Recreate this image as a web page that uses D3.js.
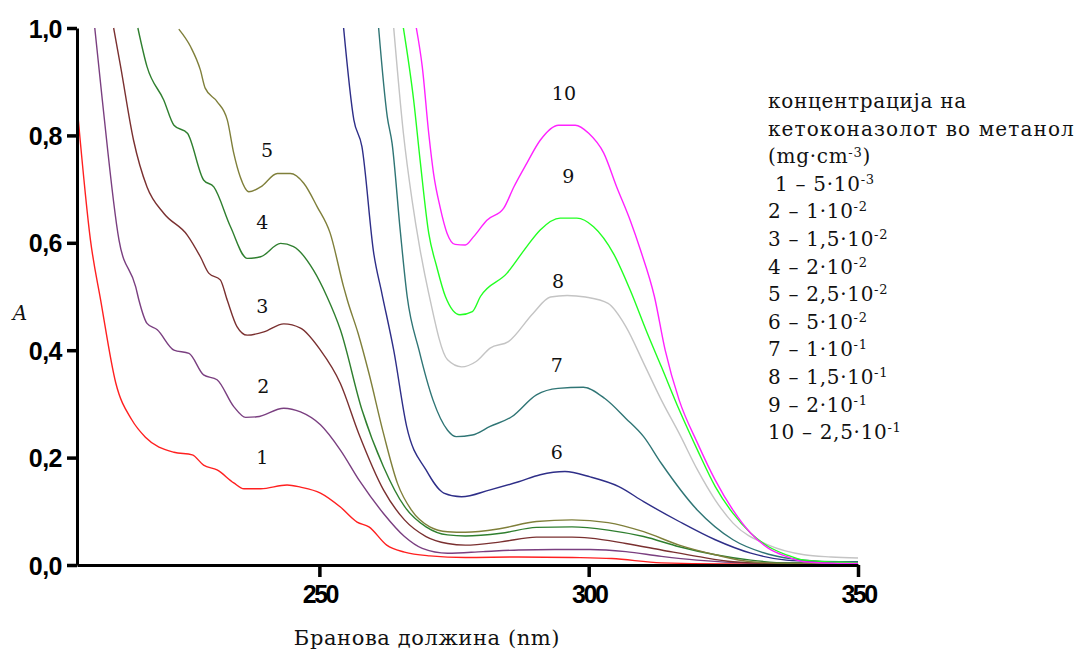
<!DOCTYPE html>
<html><head><meta charset="utf-8">
<script src="https://cdn.jsdelivr.net/npm/d3@7"></script>
<style>body{margin:0;background:#fff}svg{display:block}</style>
</head><body>
<svg id="c" width="1079" height="651"></svg>
<script>
// ---- data (wavelength nm, absorbance) ----
const s1 = [[205.2,0.834],[207.5,0.605],[209.4,0.493],[212.2,0.339],[215.2,0.270],[217.7,0.238],[223.0,0.210],[226.4,0.205],[228.5,0.186],[231.0,0.177],[234.1,0.153],[236.0,0.142],[239.1,0.142],[244.0,0.149],[246.5,0.145],[250.2,0.134],[253.9,0.108],[257.0,0.080],[259.2,0.071],[262.5,0.037],[265.8,0.024],[270.5,0.017],[277.1,0.014],[287.0,0.015],[296.9,0.014],[304.3,0.012],[313.5,0.004],[325,0.002],[350,0.002]];
const s2 = [[208.3,1.0],[209.7,0.866],[212.8,0.605],[215.9,0.518],[216.5,0.493],[218.0,0.450],[219.9,0.438],[223.0,0.400],[225.8,0.394],[228.5,0.354],[231.0,0.345],[234.1,0.295],[236.3,0.275],[238.4,0.276],[243.4,0.292],[246.5,0.285],[250.2,0.261],[253.9,0.214],[257.5,0.156],[261.9,0.096],[265.8,0.053],[269.1,0.031],[273.8,0.022],[280.4,0.025],[287.0,0.028],[293.7,0.029],[300.3,0.029],[306.9,0.025],[313.5,0.016],[320.1,0.009],[330,0.004],[350,0.003]];
const s3 = [[211.8,1.0],[213.1,0.928],[215.5,0.791],[218.0,0.704],[221.1,0.655],[225.5,0.614],[227.9,0.574],[229.5,0.543],[231.6,0.531],[232.9,0.493],[234.7,0.444],[236.6,0.428],[239.7,0.434],[243.4,0.449],[246.5,0.441],[250.2,0.400],[253.9,0.338],[257.3,0.245],[261.9,0.140],[265.8,0.084],[269.8,0.053],[273.8,0.040],[277.1,0.037],[283.7,0.043],[290.3,0.052],[296.9,0.052],[300.3,0.050],[306.9,0.040],[313.5,0.028],[320.1,0.016],[326.8,0.006],[335,0.003],[350,0.003]];
const s4 = [[216.3,1.0],[218.0,0.928],[221.1,0.866],[223.0,0.819],[225.5,0.804],[228.5,0.717],[230.4,0.704],[233.5,0.630],[236.6,0.571],[239.1,0.574],[242.8,0.599],[245.2,0.593],[248.9,0.549],[251.4,0.500],[253.9,0.438],[257.9,0.289],[261.9,0.183],[265.8,0.109],[269.8,0.071],[273.8,0.056],[277.1,0.054],[283.7,0.059],[290.3,0.070],[296.9,0.071],[303.6,0.065],[310.2,0.053],[316.8,0.034],[323.5,0.019],[330.1,0.009],[337,0.004],[350,0.004]];
const s5 = [[223.9,0.998],[226.1,0.965],[227.9,0.922],[228.8,0.888],[231.0,0.863],[232.9,0.829],[234.1,0.767],[235.3,0.723],[236.9,0.695],[239.1,0.704],[242.2,0.729],[244.6,0.729],[247.1,0.711],[249.6,0.667],[252.0,0.618],[254.5,0.518],[255.2,0.493],[257.2,0.431],[259.2,0.357],[261.9,0.245],[264.5,0.152],[267.1,0.102],[270.5,0.071],[273.8,0.062],[277.1,0.061],[283.7,0.068],[290.3,0.081],[296.9,0.084],[303.6,0.079],[310.2,0.062],[316.8,0.037],[323.5,0.019],[330.1,0.006],[337,0.003],[350,0.003]];
const s6 = [[254.5,1.0],[256.4,0.829],[257.9,0.779],[260.1,0.580],[261.6,0.506],[263.8,0.400],[266.2,0.258],[269.8,0.177],[273.1,0.134],[276.4,0.127],[281.7,0.140],[287.0,0.155],[291.0,0.168],[295.6,0.174],[300.3,0.164],[305.6,0.146],[310.2,0.118],[316.8,0.081],[323.5,0.047],[330.1,0.022],[336.7,0.009],[343.3,0.006],[350,0.005]];
const s7 = [[261.0,1.0],[262.6,0.835],[263.5,0.785],[265.0,0.624],[266.3,0.500],[268.5,0.400],[271.1,0.307],[273.8,0.251],[275.4,0.239],[278.4,0.242],[281.7,0.258],[285.7,0.276],[290.3,0.317],[294.3,0.329],[299.0,0.331],[303.0,0.310],[306.9,0.273],[310.2,0.239],[313.5,0.189],[320.2,0.102],[326.8,0.047],[333.4,0.020],[340.0,0.009],[346.6,0.006],[350,0.006]];
const s8 = [[263.8,1.0],[265.6,0.804],[267.2,0.680],[268.7,0.587],[270.3,0.506],[273.8,0.382],[276.4,0.369],[279.1,0.379],[281.7,0.404],[285.1,0.416],[289.7,0.469],[292.9,0.499],[296.0,0.502],[299.4,0.499],[303.6,0.487],[306.9,0.444],[310.2,0.376],[313.5,0.307],[316.8,0.245],[320.2,0.177],[323.5,0.121],[326.8,0.078],[333.4,0.037],[340.0,0.019],[345,0.015],[350,0.013]];
const s9 = [[265.6,1.0],[267.5,0.866],[268.7,0.754],[270.3,0.618],[271.8,0.555],[273.4,0.500],[276.1,0.466],[278.4,0.472],[279.9,0.500],[284.8,0.543],[288.5,0.593],[291.0,0.624],[294.7,0.646],[297.8,0.646],[300.9,0.630],[304.6,0.580],[307.7,0.512],[310.9,0.431],[313.5,0.369],[316.8,0.289],[320.2,0.214],[323.5,0.146],[326.8,0.096],[330.1,0.059],[333.4,0.034],[336.7,0.019],[340.0,0.009],[346.6,0.005],[350,0.004]];
const s10 = [[268.0,1.0],[269.1,0.928],[270.3,0.804],[271.2,0.729],[272.4,0.667],[273.7,0.618],[275.2,0.597],[277.1,0.596],[278.6,0.611],[281.1,0.642],[284.2,0.664],[286.1,0.704],[288.5,0.748],[291.0,0.791],[294.4,0.819],[297.5,0.819],[300.0,0.804],[302.8,0.767],[305.2,0.704],[307.7,0.642],[309.6,0.587],[312.2,0.500],[314.2,0.400],[316.8,0.307],[320.2,0.227],[323.5,0.158],[326.8,0.102],[330.1,0.059],[333.4,0.031],[336.7,0.016],[340.0,0.006],[346.6,0.003],[350,0.003]];
const seriesData = [s1,s2,s3,s4,s5,s6,s7,s8,s9,s10];
const seriesNames = ["1","2","3","4","5","6","7","8","9","10"];
const seriesColors = ["#ff2020","#7a3f80","#7a3030","#2f7f2f","#7f7f3a","#2e2e88","#2f7575","#c4c4c4","#22ff22","#ff22ff"];
const labelPos = [[239.4,0.201],[239.6,0.333],[239.4,0.482],[239.4,0.639],[240.3,0.773],[294.1,0.209],[294.1,0.371],[294.3,0.529],[296.2,0.723],[295.4,0.879]];
const xTicks = [250,300,350];
const yTicks = [0,0.2,0.4,0.6,0.8,1.0];
const legendTitle = ["концентрација на","кетоконазолот во метанол"];
const legendUnit = ["(mg·cm","-3",")"];
const legendItems = [[" 1 – 5·10","-3"],["2 – 1·10","-2"],["3 – 1,5·10","-2"],["4 – 2·10","-2"],["5 – 2,5·10","-2"],["6 – 5·10","-2"],["7 – 1·10","-1"],["8 – 1,5·10","-1"],["9 – 2·10","-1"],["10 – 2,5·10","-1"]];
const xTitle = "Бранова должина (nm)";
const yTitle = "A";

// ---- drawing ----
const svg = d3.select("#c");
const x = d3.scaleLinear().domain([205,350]).range([77,858]);
const y = d3.scaleLinear().domain([0,1]).range([565,28]);
const serif = "'DejaVu Serif', serif";

const line = d3.line().x(d=>x(d[0])).y(d=>y(d[1])).curve(d3.curveMonotoneX);
svg.append("defs").append("clipPath").attr("id","pc").append("rect")
  .attr("x",77).attr("y",27).attr("width",790).attr("height",540);
const g = svg.append("g").attr("clip-path","url(#pc)");
seriesData.forEach((s,i)=>{
  g.append("path").attr("d",line(s)).attr("fill","none")
   .attr("stroke",seriesColors[i]).attr("stroke-width",1.4);
});

// axes
const xAxis = d3.axisBottom(x).tickValues(xTicks).tickSize(12).tickSizeOuter(0).tickFormat(d3.format("d"));
const gx = svg.append("g").attr("transform","translate(0,565)").call(xAxis);
gx.select(".domain").attr("stroke","#000").attr("stroke-width",3);
gx.selectAll(".tick line").attr("stroke","#000").attr("stroke-width",3.5);
gx.selectAll(".tick text").attr("y",20).attr("dy","0.71em")
  .style("font-family","'Liberation Sans', Arial, sans-serif").style("font-weight","bold")
  .style("font-size","25px").style("letter-spacing","-2.5px").attr("fill","#000");

const yAxis = d3.axisLeft(y).tickValues(yTicks).tickSize(10).tickSizeOuter(0)
  .tickFormat(d=>d3.format(".1f")(d).replace(".",","));
const gy = svg.append("g").attr("transform","translate(77,0)").call(yAxis);
gy.select(".domain").attr("stroke","#000").attr("stroke-width",3);
gy.selectAll(".tick line").attr("stroke","#000").attr("stroke-width",3.5);
gy.selectAll(".tick text").attr("x",-15).attr("dy","0.36em")
  .style("font-family","'Liberation Sans', Arial, sans-serif").style("font-weight","bold")
  .style("font-size","25px").style("letter-spacing","-0.5px").attr("fill","#000");

// titles
svg.append("text").attr("x",427).attr("y",645).attr("text-anchor","middle")
  .style("font-family",serif).style("font-size","21px").style("letter-spacing","0.6px").attr("fill","#111").text(xTitle);
svg.append("text").attr("x",20).attr("y",320).attr("text-anchor","middle")
  .style("font-family",serif).style("font-style","italic").style("font-size","20px").attr("fill","#111").text(yTitle);

// curve labels
labelPos.forEach((p,i)=>{
  svg.append("text").attr("x",x(p[0])).attr("y",y(p[1])).attr("text-anchor","middle").attr("dy","0.35em")
    .style("font-family",serif).style("font-size","19px").attr("fill","#111").text(seriesNames[i]);
});

// legend
const lg = svg.append("g").style("font-family",serif).style("font-size","20px").style("letter-spacing","0.7px").attr("fill","#111");
const lx = 768, ly0 = 108, lh = 27.6;
legendTitle.forEach((t,i)=>lg.append("text").attr("x",lx).attr("y",ly0+i*lh)
  .style("letter-spacing", i===1 ? "1.1px" : "0.7px").text(t));
const u = lg.append("text").attr("x",lx).attr("y",ly0+2*lh);
u.append("tspan").text(legendUnit[0]);
u.append("tspan").attr("dy",-6).style("font-size","13px").text(legendUnit[1]);
u.append("tspan").attr("dy",6).text(legendUnit[2]);
legendItems.forEach((it,i)=>{
  const t = lg.append("text").attr("x",lx).attr("y",ly0+(3+i)*lh).attr("xml:space","preserve");
  t.append("tspan").text(it[0]);
  t.append("tspan").attr("dy",-7).style("font-size","13px").text(it[1]);
});
</script>
</body></html>
